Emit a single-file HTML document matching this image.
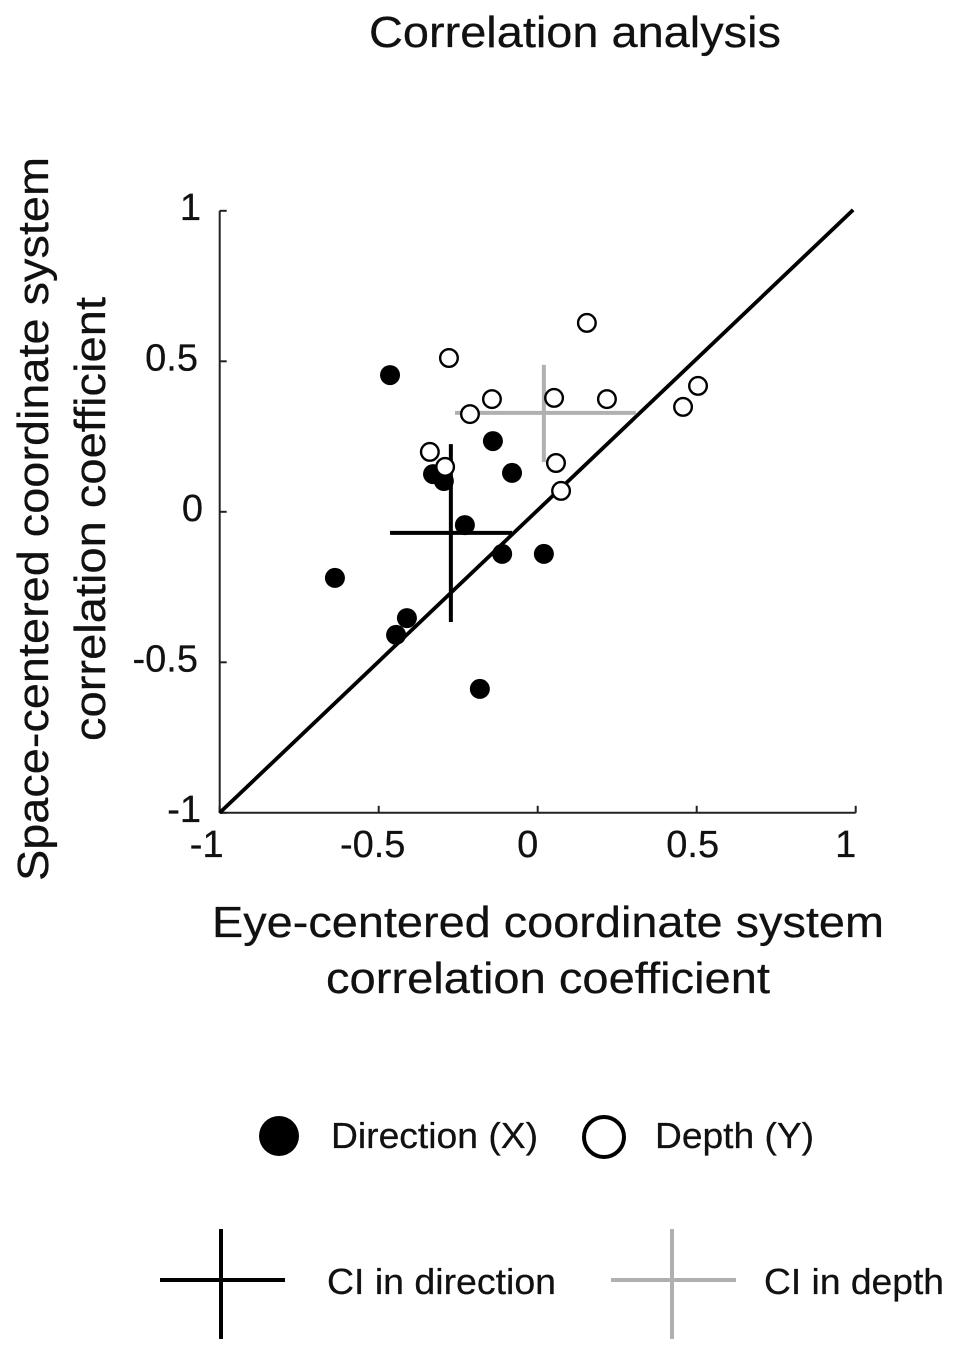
<!DOCTYPE html>
<html>
<head>
<meta charset="utf-8">
<style>
html,body{margin:0;padding:0;background:#fff}
svg{display:block}
text{font-family:"Liberation Sans",sans-serif;fill:#111;stroke:#111;stroke-width:.25px}
</style>
</head>
<body>
<svg id="chart" width="957" height="1359" viewBox="0 0 957 1359" xmlns="http://www.w3.org/2000/svg">
<text x="575" y="47" font-size="44" text-anchor="middle" textLength="412" lengthAdjust="spacingAndGlyphs">Correlation analysis</text>
<g id="axes"></g>
<g id="marks"></g>
<text x="548" y="937" font-size="44" text-anchor="middle" textLength="672" lengthAdjust="spacingAndGlyphs">Eye-centered coordinate system</text>
<text x="548" y="993" font-size="44" text-anchor="middle" textLength="444" lengthAdjust="spacingAndGlyphs">correlation coefficient</text>
<text transform="translate(48,519) rotate(-90)" font-size="44" text-anchor="middle" textLength="724" lengthAdjust="spacingAndGlyphs">Space-centered coordinate system</text>
<text transform="translate(105,519) rotate(-90)" font-size="44" text-anchor="middle" textLength="444" lengthAdjust="spacingAndGlyphs">correlation coefficient</text>
<g>
<circle cx="279" cy="1136" r="20" fill="#000"/>
<text x="331" y="1148" font-size="36" textLength="207" lengthAdjust="spacingAndGlyphs">Direction (X)</text>
<circle cx="604" cy="1137" r="20" fill="#fff" stroke="#000" stroke-width="4"/>
<text x="655" y="1148" font-size="36" textLength="159" lengthAdjust="spacingAndGlyphs">Depth (Y)</text>
<line x1="160" x2="285" y1="1280" y2="1280" stroke="#000" stroke-width="4"/>
<line x1="221" x2="221" y1="1229" y2="1339" stroke="#000" stroke-width="4"/>
<text x="327" y="1294" font-size="36" textLength="229" lengthAdjust="spacingAndGlyphs">CI in direction</text>
<line x1="611" x2="736" y1="1280" y2="1280" stroke="#b0b0b0" stroke-width="4"/>
<line x1="672" x2="672" y1="1229" y2="1339" stroke="#b0b0b0" stroke-width="4"/>
<text x="764" y="1294" font-size="36" textLength="180" lengthAdjust="spacingAndGlyphs">CI in depth</text>
</g>
</svg>
<script>
const xTicks = [-1, -0.5, 0, 0.5, 1];
const yTicks = [-1, -0.5, 0, 0.5, 1];
const tickLabels = ['-1', '-0.5', '0', '0.5', '1'];
const directionX = [-0.463, -0.14, -0.328, -0.294, -0.08, -0.228, -0.111, 0.02, -0.636, -0.41, -0.444, -0.181];
const directionY = [0.453, 0.233, 0.123, 0.10, 0.127, -0.047, -0.143, -0.143, -0.223, -0.357, -0.413, -0.593];
const depthX = [0.155, -0.278, -0.143, 0.052, 0.218, -0.212, 0.457, 0.504, -0.338, -0.29, 0.058, 0.074];
const depthY = [0.627, 0.51, 0.373, 0.377, 0.373, 0.323, 0.347, 0.417, 0.197, 0.147, 0.16, 0.067];
const ciDirectionXRange = [-0.463, -0.08];
const ciDirectionYRange = [-0.37, 0.223];
const ciDirectionCenter = [-0.272, -0.073];
const ciDepthXRange = [-0.259, 0.309];
const ciDepthYRange = [0.163, 0.487];
const ciDepthCenter = [0.02, 0.327];
const identityLineX = [-1, 0.992];
const identityLineY = [-1, 1.003];

const NS = 'http://www.w3.org/2000/svg';
function sx(v) { return 537.7 + v * 318; }
function sy(v) { return 511.8 - v * 301; }
function mx(v) { return 537.5 + v * 318.5; }
function my(v) { return 511 - v * 300; }
function make(tag, attrs, parent) {
  const el = document.createElementNS(NS, tag);
  for (const k in attrs) el.setAttribute(k, attrs[k]);
  parent.appendChild(el);
  return el;
}
const axes = document.getElementById('axes');
const marks = document.getElementById('marks');

const xAxis = make('line', {x1: sx(-1), x2: sx(1), y1: sy(-1), y2: sy(-1), stroke: '#222', 'stroke-width': 2}, axes);


const yAxis = make('line', {x1: sx(-1), x2: sx(-1), y1: sy(-1), y2: sy(1), stroke: '#222', 'stroke-width': 2}, axes);



const xLabelOffsets = [-13, -6, -10, -4, -10];
const yLabelOffsets = [0, -3, 2, -3, 0];
xTicks.forEach(function (t, i) {
  const tick = make('line', {x1: sx(t), x2: sx(t), y1: sy(-1), y2: sy(-1) - 7, stroke: '#222', 'stroke-width': 2}, axes);
  
  
  const label = make('text', {x: sx(t) + xLabelOffsets[i], y: 857, 'font-size': 38, 'text-anchor': 'middle'}, axes);
  
  
  label.textContent = tickLabels[i];
});
yTicks.forEach(function (t, i) {
  const tick = make('line', {x1: sx(-1), x2: sx(-1) + 7, y1: sy(t), y2: sy(t), stroke: '#222', 'stroke-width': 2}, axes);
  
  
  const label = make('text', {x: 201 + yLabelOffsets[i], y: sy(t) + 9, 'font-size': 38, 'text-anchor': 'end'}, axes);
  
  
  label.textContent = tickLabels[i];
});

const diag = make('line', {x1: sx(identityLineX[0]), y1: sy(identityLineY[0]), x2: sx(identityLineX[1]), y2: sy(identityLineY[1]), stroke: '#000', 'stroke-width': 3.8}, marks);



function drawCI(xr, yr, c, color, name) {
  const h = make('line', {x1: mx(xr[0]), x2: mx(xr[1]), y1: my(c[1]), y2: my(c[1]), stroke: color, 'stroke-width': 4}, marks);
  
  
  const v = make('line', {x1: mx(c[0]), x2: mx(c[0]), y1: my(yr[0]), y2: my(yr[1]), stroke: color, 'stroke-width': 4}, marks);
  
  
}
drawCI(ciDepthXRange, ciDepthYRange, ciDepthCenter, '#b0b0b0', 'ci-depth');
drawCI(ciDirectionXRange, ciDirectionYRange, ciDirectionCenter, '#000', 'ci-direction');

directionX.forEach(function (x, i) {
  const c = make('circle', {cx: mx(x), cy: my(directionY[i]), r: 10, fill: '#000'}, marks);
  
  
});
depthX.forEach(function (x, i) {
  const c = make('circle', {cx: mx(x), cy: my(depthY[i]), r: 8.8, fill: '#fff', stroke: '#000', 'stroke-width': 2.4}, marks);
  
  
});
</script>
</body>
</html>
